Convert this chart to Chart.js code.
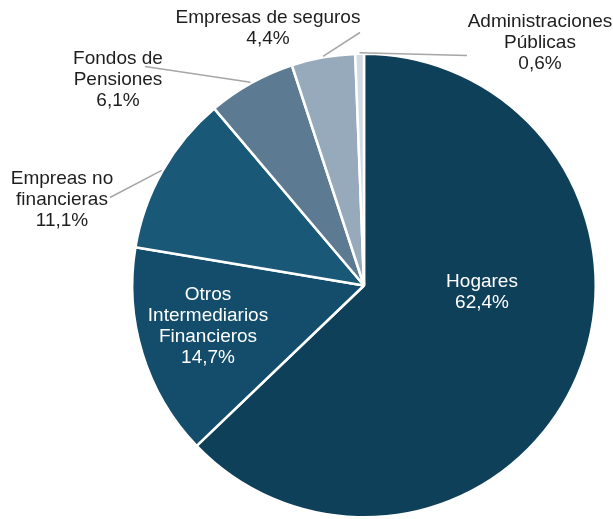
<!DOCTYPE html>
<html>
<head>
<meta charset="utf-8">
<script src="https://cdn.jsdelivr.net/npm/chart.js@4"></script>
<style>
  html, body { margin: 0; padding: 0; background: #ffffff; }
  #wrap { width: 613px; height: 519px; }
</style>
</head>
<body>
<div id="wrap"><canvas id="grafico" width="613" height="519"></canvas></div>
<script>
// datos del gráfico
const categorias = [
  "Hogares",
  "Otros Intermediarios Financieros",
  "Empresas no financieras",
  "Fondos de Pensiones",
  "Empresas de seguros",
  "Administraciones Públicas",
];
const porcentajes = [62.4, 14.7, 11.1, 6.1, 4.4, 0.6];
// texto de cada etiqueta, partido en líneas
const etiquetas = [
  ["Hogares", "62,4%"],
  ["Otros", "Intermediarios", "Financieros", "14,7%"],
  ["Empreas no", "financieras", "11,1%"],
  ["Fondos de", "Pensiones", "6,1%"],
  ["Empresas de seguros", "4,4%"],
  ["Administraciones", "Públicas", "0,6%"],
];
const colores = ["#0f4059", "#134d6b", "#1a5878", "#5c7a91", "#97aabb", "#d3dbe2"];

// colocación de etiquetas (desplazamiento desde el centro de la tarta)
const posEtiqueta = [
  { dx: 118, dy: 6.5, dentro: true },
  { dx: -156, dy: 41, dentro: true },
  { dx: -302, dy: -85.5, fin: [-254, -88] },
  { dx: -246, dy: -206, fin: [-219, -219] },
  { dx: -96, dy: -257, fin: [-4, -253] },
  { dx: 176, dy: -242.5, fin: [103, -230] },
];

const etiquetasPlugin = {
  id: "etiquetasPlugin",
  afterDatasetsDraw(chart) {
    const ctx = chart.ctx;
    const meta = chart.getDatasetMeta(0);
    ctx.save();
    ctx.font = '19px "Liberation Sans", Arial, sans-serif';
    ctx.textAlign = "center";
    ctx.textBaseline = "middle";
    const alto = 21;
    meta.data.forEach((arc, i) => {
      const p = arc.getProps(["x", "y", "startAngle", "endAngle", "outerRadius"], true);
      const pos = posEtiqueta[i];
      if (!pos.dentro) {
        const medio = (p.startAngle + p.endAngle) / 2;
        const r = p.outerRadius + 1;
        ctx.strokeStyle = "#a6a6a6";
        ctx.lineWidth = 1.5;
        ctx.beginPath();
        ctx.moveTo(p.x + Math.cos(medio) * r, p.y + Math.sin(medio) * r);
        ctx.lineTo(p.x + pos.fin[0], p.y + pos.fin[1]);
        ctx.stroke();
      }
      ctx.fillStyle = pos.dentro ? "#ffffff" : "#1e1e1e";
      const lineas = etiquetas[i];
      const y0 = p.y + pos.dy - ((lineas.length - 1) * alto) / 2;
      lineas.forEach((t, k) => {
        ctx.fillText(t, p.x + pos.dx, y0 + k * alto);
      });
    });
    ctx.restore();
  },
};

const ctx = document.getElementById("grafico").getContext("2d");
const chart = new Chart(ctx, {
  type: "pie",
  data: {
    labels: categorias,
    datasets: [
      {
        data: porcentajes,
        backgroundColor: colores,
        borderColor: "#ffffff",
        borderWidth: 2.5,
        hoverOffset: 0,
      },
    ],
  },
  options: {
    responsive: false,
    animation: false,
    layout: { padding: { top: 52, bottom: 0, left: 131, right: 16 } },
    plugins: {
      legend: { display: false },
      tooltip: { enabled: false },
    },
  },
  plugins: [etiquetasPlugin],
});
</script>
</body>
</html>
